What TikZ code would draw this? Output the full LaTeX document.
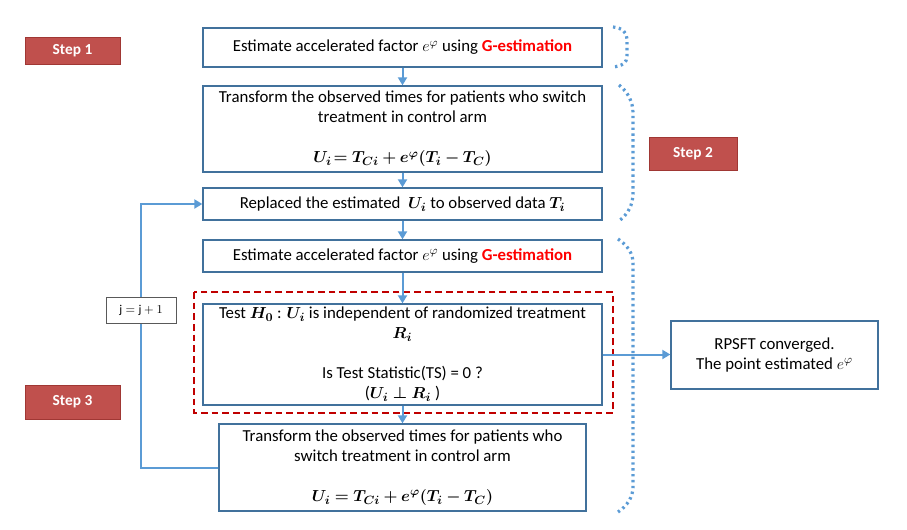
\documentclass[tikz,border=0pt]{standalone}
\usepackage{amsmath,bm}
\usepackage{fontspec}
\setmainfont{Carlito}
\usetikzlibrary{arrows.meta}

\definecolor{boxblue}{RGB}{65,113,156}
\definecolor{flowblue}{RGB}{91,155,213}
\definecolor{stepred}{RGB}{192,80,77}
\definecolor{stepedge}{RGB}{160,55,52}
\definecolor{testred}{RGB}{192,0,0}

\tikzset{every picture/.style={line width=0.75pt}}
\tikzset{
  flowbox/.style={draw=boxblue, line width=1pt, align=center, inner sep=0.75pt, font=\fontsize{12.6}{15}\selectfont},
  stepbox/.style={draw=stepedge, fill=stepred, text=white, minimum width=71.25pt, font=\fontsize{11.5}{13}\selectfont\bfseries},
  flow/.style={draw=flowblue, line width=1.5pt, -{Triangle[length=6pt,width=6.75pt]}},
  flowline/.style={draw=flowblue, line width=1.5pt},
  bracket/.style={draw=flowblue, line width=2.4pt, dash pattern=on 1.8pt off 2.6pt},
}

\begin{document}
\begin{tikzpicture}[x=0.75pt,y=0.75pt,yscale=-1,xscale=1]
\useasboundingbox (0,0) rectangle (907,529);

%Rounded brackets
\draw [bracket] (613,27) .. controls (622,28) and (627,32) .. (627,39) -- (627,56) .. controls (627,63) and (622,66) .. (613,67) ;
\draw [bracket] (619,85) .. controls (628,92) and (633,102) .. (633,113) -- (633,193) .. controls (633,205) and (628,214) .. (619,221) ;
\draw [bracket] (618,239) .. controls (627,245) and (633,253) .. (633,263) -- (633,487) .. controls (633,497) and (627,506) .. (618,512) ;

%Dashed frame
\draw [testred, line width=1.5pt, dash pattern=on 5pt off 3pt] (194,292) rectangle (613,413) ;

% Step labels
\node [stepbox, minimum height=20.25pt] (step1) at (72.5,50.5) {Step 1};
\node [stepbox, minimum width=66pt, minimum height=24.75pt] (step2) at (693,153.5) {Step 2};
\node [stepbox, minimum height=25.5pt] (step3) at (72.5,402) {Step 3};

% Flow boxes
\node [flowbox, minimum width=299.25pt, minimum height=29.25pt] (est1) at (402.5,47.5) {Estimate accelerated factor $e^{\varphi}$ using \textcolor{red}{\textbf{G-estimation}}};
\node [flowbox, minimum width=299.25pt, minimum height=64.5pt] (trans1) at (402.5,129) {Transform the observed times for patients who switch\\ treatment in control arm\\[15pt] $\bm{U_i\!= T_{Ci} + e^{\varphi}(T_i - T_C)}$};
\node [flowbox, minimum width=299.25pt, minimum height=24pt] (repl) at (402.5,204) {Replaced the estimated \ $\bm{U_i}$ to observed data $\bm{T_i}$};
\node [flowbox, minimum width=299.25pt, minimum height=24pt] (est2) at (402.5,256) {Estimate accelerated factor $e^{\varphi}$ using \textcolor{red}{\textbf{G-estimation}}};
\node [flowbox, minimum width=299.25pt, minimum height=75.75pt] (test) at (402.5,354.5) {Test $\bm{H_0}$ : $\bm{U_i}$ is independent of randomized treatment\\ $\bm{R_i}$\\[15pt] Is Test Statistic(TS) = 0 ?\\ ($\bm{U_i \perp R_i}$ )};
\node [flowbox, minimum width=275.25pt, minimum height=65.25pt] (trans2) at (402.5,467.5) {Transform the observed times for patients who\\ switch treatment in control arm\\[15pt] $\bm{U_i = T_{Ci} + e^{\varphi}(T_i - T_C)}$};
\node [flowbox, minimum width=155.25pt, minimum height=51pt] (conv) at (774.5,355) {RPSFT converged.\\ The point estimated $e^{\varphi}$};
\node [draw=black!65, line width=0.75pt, fill=white, minimum width=52.5pt, minimum height=19.5pt, inner sep=0.75pt, font=\fontsize{9}{11}\selectfont] (jbox) at (141,310) {$\mathrm{j}=\mathrm{j}+1$};

% Connectors
\draw [flow] (est1.south) -- (trans1.north) ;
\draw [flow] (trans1.south) -- (repl.north) ;
\draw [flow] (repl.south) -- (est2.north) ;
\draw [flow] (est2.south) -- (test.north) ;
\draw [flow] (test.south) -- (trans2.north) ;
\draw [flow] (test.east) -- (test.east -| conv.west) ;
\draw [flowline] (trans2.west) -| (jbox.south) ;
\draw [flow] (jbox.north) |- (repl.west) ;

\end{tikzpicture}
\end{document}
